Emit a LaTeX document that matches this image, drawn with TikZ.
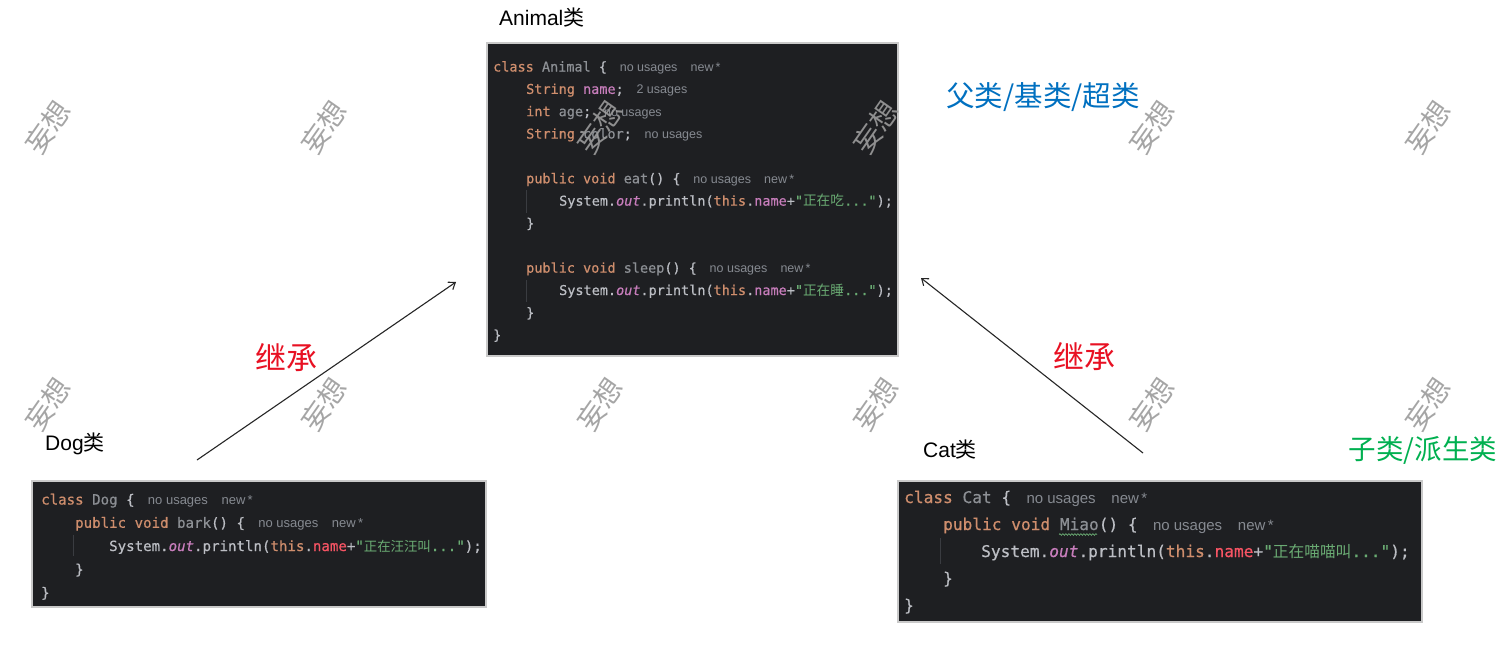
\documentclass[tikz,border=0pt]{standalone}
\usepackage{fontspec}
\setmainfont{Liberation Sans}
\setmonofont{DejaVu Sans Mono}[FakeBold=0.6]
\newfontfamily\cjk{Noto Sans CJK SC}
\newfontfamily\hintfont{Liberation Sans}
\usetikzlibrary{arrows.meta,decorations.pathmorphing}
\definecolor{codebg}{HTML}{1E1F22}
\definecolor{boxline}{HTML}{C9C9C9}
\definecolor{deftxt}{HTML}{BCBEC4}
\definecolor{kwc}{HTML}{CF8E6D}
\definecolor{unc}{HTML}{8C8F94}
\definecolor{hintc}{HTML}{868A91}
\definecolor{strc}{HTML}{6AAB73}
\definecolor{fldc}{HTML}{C77DBB}
\definecolor{errc}{HTML}{F75464}
\definecolor{guidec}{HTML}{3A3C41}
\definecolor{wmc}{HTML}{9C9C9C}
\definecolor{inhc}{HTML}{E81123}
\definecolor{parc}{HTML}{0070C0}
\definecolor{subc}{HTML}{00B050}
\definecolor{arrc}{HTML}{262626}
\newcommand\ckw[1]{\textcolor{kwc}{#1}}
\newcommand\cun[1]{\textcolor{unc}{#1}}
\newcommand\cfld[1]{\textcolor{fldc}{#1}}
\newcommand\cerr[1]{\textcolor{errc}{#1}}
\newcommand\cout[1]{\textcolor{fldc}{\itshape #1}}
\newcommand\cstr[1]{\textcolor{strc}{#1}}
\newcommand\ccjk[1]{{\cjk\fontsize{\cs}{\cs}\selectfont #1}}
\newcommand\chint[1]{\hspace{0.95em}{\hintfont\fontsize{\hs}{\hs}\selectfont\color{hintc}#1}}
\newcommand\cnew{\hspace{1.05em}new\,*}
\begin{document}
\begin{tikzpicture}[x=1pt,y=-1pt,
  codebox/.style={fill=codebg,draw=boxline,line width=1.2pt},
  codeA/.style={anchor=base west,inner sep=0pt,text=deftxt,
    font=\ttfamily\fontsize{13.5}{16}\selectfont\def\hs{12.5}\def\cs{13.7}},
  codeD/.style={anchor=base west,inner sep=0pt,text=deftxt,
    font=\ttfamily\fontsize{14.1}{16}\selectfont\def\hs{13}\def\cs{13.4}},
  codeC/.style={anchor=base west,inner sep=0pt,text=deftxt,
    font=\ttfamily\fontsize{16.15}{18}\selectfont\def\hs{15}\def\cs{15.7}},
  guide/.style={draw=guidec,line width=1pt},
  cls/.style={anchor=base west,inner sep=0pt,text=black,font=\fontsize{21}{21}\selectfont},
  inh/.style={inner sep=0pt,text=inhc,font=\cjk\fontsize{31}{31}\selectfont},
  role/.style={inner sep=0pt,font=\cjk\selectfont},
  wm/.style={inner sep=0pt,text=wmc,opacity=0.9,rotate=55,font=\cjk\fontsize{28}{28}\selectfont},
  inharrow/.style={draw=arrc,line width=1.1pt,-{Straight Barb[length=6pt,width=9pt]}}]
\useasboundingbox (0,0) rectangle (1501,648);
\fill[white] (0,0) rectangle (1501,648);

% class labels
\node[cls] (lanimal) at (499,25.5) {Animal{\cjk 类}};
\node[cls] (ldog) at (45,450) {Dog{\cjk 类}};
\node[cls] (lcat) at (923,457) {Cat{\cjk 类}};

% Animal box
\draw[codebox] (487,43) rectangle (898,356);
\draw[guide] (526.5,190) -- (526.5,213);
\draw[guide] (526.5,280) -- (526.5,302);
\node[codeA] (a1) at (493,71.5) {\ckw{class} \cun{Animal} \{\chint{no usages\cnew}};
\node[codeA] (a2) at (526,93.85) {\ckw{String} \cfld{name};\chint{2 usages}};
\node[codeA] (a3) at (526,116.2) {\ckw{int} \cun{age};\chint{no usages}};
\node[codeA] (a4) at (526,138.55) {\ckw{String} \cun{color};\chint{no usages}};
\node[codeA] (a5) at (526,183.25) {\ckw{public} \ckw{void} \cun{eat}() \{\chint{no usages\cnew}};
\node[codeA] (a6) at (559,205.6) {System.\cout{out}.println(\ckw{this}.\cfld{name}+\cstr{"\ccjk{正在吃}..."});};
\node[codeA] (a7) at (526,227.95) {\}};
\node[codeA] (a8) at (526,272.65) {\ckw{public} \ckw{void} \cun{sleep}() \{\chint{no usages\cnew}};
\node[codeA] (a9) at (559,295) {System.\cout{out}.println(\ckw{this}.\cfld{name}+\cstr{"\ccjk{正在睡}..."});};
\node[codeA] (a10) at (526,317.35) {\}};
\node[codeA] (a11) at (493,339.7) {\}};

% Dog box
\draw[codebox] (32,481) rectangle (486,607);
\draw[guide] (73,535) -- (73,556);
\node[codeD] (d1) at (41,504.5) {\ckw{class} \cun{Dog} \{\chint{no usages\cnew}};
\node[codeD] (d2) at (75,527.75) {\ckw{public} \ckw{void} \cun{bark}() \{\chint{no usages\cnew}};
\node[codeD] (d3) at (109,551) {System.\cout{out}.println(\ckw{this}.\cerr{name}+\cstr{"\ccjk{正在汪汪叫}..."});};
\node[codeD] (d4) at (75,574.25) {\}};
\node[codeD] (d5) at (41,597.5) {\}};

% Cat box
\draw[codebox] (898,481) rectangle (1422,622);
\draw[guide] (940,538) -- (940,564);
\node[codeC] (c1) at (904,503) {\ckw{class} \cun{Cat} \{\chint{no usages\cnew}};
\node[codeC] (c2) at (943,530) {\ckw{public} \ckw{void} \cun{Miao}() \{\chint{no usages\cnew}};
\draw[draw=strc,line width=0.7pt,decorate,decoration={snake,amplitude=0.8pt,segment length=3pt}] (1059,534.5) -- (1097,534.5);
\node[codeC] (c3) at (981,557) {System.\cout{out}.println(\ckw{this}.\cerr{name}+\cstr{"\ccjk{正在喵喵叫}..."});};
\node[codeC] (c4) at (943,584) {\}};
\node[codeC] (c5) at (904,611) {\}};

% inheritance arrows
\coordinate (dogfrom) at (197,460);
\coordinate (animalL) at (456,282);
\coordinate (catfrom) at (1143,453);
\coordinate (animalR) at (921,278);
\draw[inharrow] (dogfrom) -- (animalL);
\draw[inharrow] (catfrom) -- (animalR);
\node[inh] (inh1) at (286,358) {继承};
\node[inh] (inh2) at (1084,357) {继承};

% role labels
\node[role,text=parc,font=\cjk\fontsize{28.5}{28.5}\selectfont] (parent) at (1043,97) {父类/基类/超类};
\node[role,text=subc,font=\cjk\fontsize{27.5}{27.5}\selectfont] (child) at (1423,450) {子类/派生类};

% watermarks
\foreach \wx in {48,324,600,876,1152,1428}{
  \node[wm] (wmt\wx) at (\wx,127) {妄想};
  \node[wm] (wmb\wx) at (\wx,404) {妄想};
}
\end{tikzpicture}
\end{document}
